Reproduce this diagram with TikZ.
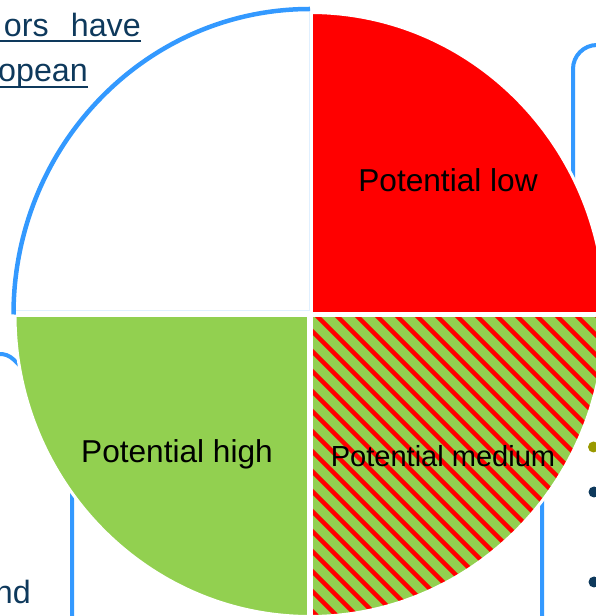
\documentclass[tikz,border=0pt]{standalone}
\usepackage{fontspec}
\setmainfont{Liberation Sans}
\definecolor{pieblue}{RGB}{51,153,255}
\definecolor{piegreen}{RGB}{146,208,80}
\definecolor{navytext}{RGB}{14,57,92}
\definecolor{bulletolive}{RGB}{153,153,0}
\tikzset{
  frame/.style={draw=pieblue,line width=1.2mm},
  piece/.style={draw=white,line width=0.9mm},
  lbl/.style={anchor=base,font=\fontsize{27}{32}\selectfont},
  slidetext/.style={anchor=base east,text=navytext,font=\fontsize{27.5}{33}\selectfont},
  uline/.style={navytext,line width=0.45mm}
}
\begin{document}
\begin{tikzpicture}[x=0.3mm,y=0.3mm,every node/.style={inner sep=0pt}]
        \useasboundingbox (0,0) rectangle (596,616);
        \clip (0,0) rectangle (596,616);
        % frames behind the pie
        \draw[frame,rounded corners=7.2mm] (573,336) rectangle (720,571);
        \draw[frame,rounded corners=6mm] (542,-60) rectangle (720,276);
        \draw[frame] (-2,262) arc[start angle=95,end angle=45,radius=20]
            -- (72,200) -- (72,-60);
        % slide text
        \node[slidetext] (ors) at (141,579) {ors\hspace{4mm} have};
        \node[slidetext] (opean) at (88,534) {opean};
        \node[slidetext] (nd) at (31,13) {nd};
        \draw[uline] (ors.base east) ++(0,-4) -- ++(-150,0);
        \draw[uline] (opean.base east) ++(0,-5) -- ++(-100,0);
        \fill[bulletolive] (593.5,169) circle (5.5);
        \fill[navytext] (594,124) circle (5.5);
        \fill[navytext] (594,34) circle (5.5);
        % pie
        \coordinate (c) at (310,301.5);
        \filldraw[piece,fill=red] (c) -- ++(295,0)
            arc[start angle=0,end angle=90,x radius=295,y radius=302] -- cycle;
        \filldraw[piece,fill=piegreen] (c) -- ++(-295,0)
            arc[start angle=180,end angle=270,x radius=295,y radius=302] -- cycle;
        \begin{scope}
            \clip (c) -- ++(0,-302)
                arc[start angle=270,end angle=360,x radius=295,y radius=302] -- cycle;
            \fill[piegreen] (c) rectangle ++(300,-310);
            \foreach \k in {15,...,47}
                \draw[red,line width=1.3mm] (17+20*\k,0) -- ++(-420,420);
        \end{scope}
        \draw[piece] (c) -- ++(0,-302)
            arc[start angle=270,end angle=360,x radius=295,y radius=302] -- cycle;
        \draw[white,line width=1.8mm] (c) ++(0,-320) -- ++(0,640);
        \draw[white,line width=1.5mm] (c) ++(-320,0) -- ++(640,0);
        \draw[pieblue!15,line width=0.3mm] (309,607) -- (309,305) -- (13,305);
        \draw[pieblue,line width=1.35mm] (c) ++(0,305.5)
            arc[start angle=90,end angle=180,x radius=296.5,y radius=305.5];
        \node[lbl] (low) at (448,424) {Potential low};
        \node[lbl] (high) at (177,153) {Potential high};
        \node[lbl,font=\fontsize{24.8}{30}\selectfont] (medium) at (443,149) {Potential medium};
\end{tikzpicture}
\end{document}
